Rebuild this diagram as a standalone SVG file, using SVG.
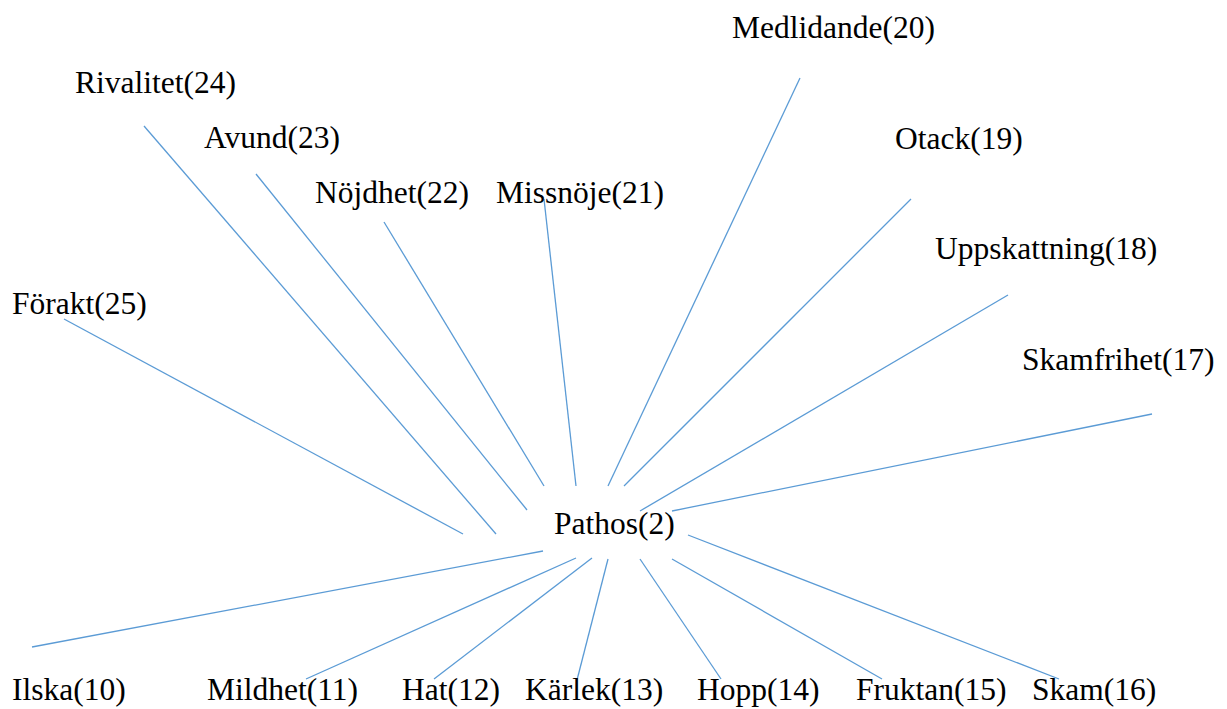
<svg xmlns="http://www.w3.org/2000/svg" width="1227" height="709" viewBox="0 0 1227 709">
<style>
.l{font-family:"Liberation Serif","Times New Roman",serif;font-size:31.5px;fill:#000}
.c line{stroke:#5B9BD5;stroke-width:1.3;fill:none}
</style>
<rect width="1227" height="709" fill="#fff"/>
<g class="c" id="connectors">
<line x1="64" y1="319" x2="463" y2="534"/>
<line x1="144" y1="126" x2="496" y2="534"/>
<line x1="256" y1="174" x2="527" y2="510"/>
<line x1="384" y1="222" x2="544" y2="486"/>
<line x1="544" y1="199" x2="576" y2="486"/>
<line x1="800" y1="78" x2="608" y2="486"/>
<line x1="911" y1="199" x2="624" y2="486"/>
<line x1="1008" y1="295" x2="640" y2="511"/>
<line x1="1152" y1="414" x2="672" y2="511"/>
<line x1="32" y1="647" x2="543" y2="551"/>
<line x1="306" y1="679" x2="576" y2="558"/>
<line x1="434" y1="679" x2="592" y2="558"/>
<line x1="577" y1="680" x2="608" y2="559"/>
<line x1="721" y1="679" x2="640" y2="559"/>
<line x1="882" y1="679" x2="672" y2="559"/>
<line x1="1059" y1="679" x2="688" y2="535"/>
</g>
<g id="pathos"><text class="l" x="554" y="534">Pathos(2)</text></g>
<g id="n25"><text class="l" x="12" y="314">Förakt(25)</text></g>
<g id="n24"><text class="l" x="75" y="93">Rivalitet(24)</text></g>
<g id="n23"><text class="l" x="204" y="148">Avund(23)</text></g>
<g id="n22"><text class="l" x="315" y="203">Nöjdhet(22)</text></g>
<g id="n21"><text class="l" x="496" y="203">Missnöje(21)</text></g>
<g id="n20"><text class="l" x="732" y="38">Medlidande(20)</text></g>
<g id="n19"><text class="l" x="895" y="149">Otack(19)</text></g>
<g id="n18"><text class="l" x="935" y="259">Uppskattning(18)</text></g>
<g id="n17"><text class="l" x="1022" y="370">Skamfrihet(17)</text></g>
<g id="n10"><text class="l" x="12" y="700">Ilska(10)</text></g>
<g id="n11"><text class="l" x="207" y="700">Mildhet(11)</text></g>
<g id="n12"><text class="l" x="402" y="700">Hat(12)</text></g>
<g id="n13"><text class="l" x="525" y="700">Kärlek(13)</text></g>
<g id="n14"><text class="l" x="697" y="700">Hopp(14)</text></g>
<g id="n15"><text class="l" x="856" y="700">Fruktan(15)</text></g>
<g id="n16"><text class="l" x="1032" y="700">Skam(16)</text></g>
</svg>
